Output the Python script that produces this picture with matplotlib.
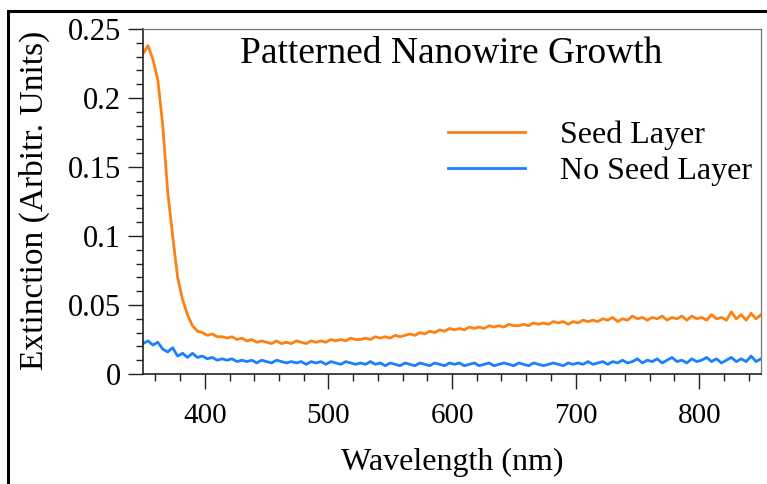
import numpy as np
import matplotlib
matplotlib.use("Agg")
import matplotlib.pyplot as plt
from matplotlib.ticker import MultipleLocator, FuncFormatter
from matplotlib.patches import Rectangle

plt.rcParams['font.family'] = ['Liberation Serif', 'DejaVu Serif']

# wavelength grid (nm), 4 nm step
wavelength = np.arange(350, 851, 4)

# extinction
seed_layer = [
    0.232, 0.238, 0.228, 0.213, 0.180, 0.132, 0.100, 0.070, 0.054, 0.043,
    0.035, 0.031, 0.030, 0.028, 0.029, 0.027, 0.027, 0.026, 0.027, 0.025,
    0.026, 0.024, 0.025, 0.023, 0.024, 0.023, 0.022, 0.024, 0.022, 0.023,
    0.022, 0.024, 0.023, 0.022, 0.024, 0.023, 0.024, 0.023, 0.025, 0.024,
    0.025, 0.024, 0.026, 0.025, 0.025, 0.026, 0.025, 0.027, 0.026, 0.027,
    0.026, 0.028, 0.027, 0.028, 0.029, 0.028, 0.030, 0.029, 0.031, 0.030,
    0.032, 0.031, 0.033, 0.032, 0.033, 0.032, 0.034, 0.033, 0.034, 0.033,
    0.035, 0.034, 0.035, 0.034, 0.036, 0.035, 0.035, 0.036, 0.035, 0.037,
    0.036, 0.037, 0.036, 0.038, 0.037, 0.038, 0.036, 0.038, 0.037, 0.039,
    0.038, 0.039, 0.038, 0.040, 0.039, 0.041, 0.038, 0.040, 0.039, 0.042,
    0.040, 0.041, 0.039, 0.041, 0.040, 0.042, 0.039, 0.041, 0.040, 0.042,
    0.039, 0.042, 0.040, 0.041, 0.039, 0.043, 0.040, 0.041, 0.039, 0.045,
    0.040, 0.043, 0.039, 0.044, 0.040, 0.043,
]
no_seed_layer = [
    0.022, 0.024, 0.021, 0.023, 0.018, 0.016, 0.019, 0.013, 0.015, 0.012,
    0.015, 0.012, 0.013, 0.011, 0.012, 0.010, 0.011, 0.010, 0.011, 0.009,
    0.010, 0.009, 0.010, 0.008, 0.010, 0.009, 0.008, 0.010, 0.009, 0.008,
    0.009, 0.008, 0.009, 0.007, 0.009, 0.008, 0.009, 0.007, 0.009, 0.008,
    0.007, 0.009, 0.008, 0.007, 0.008, 0.007, 0.009, 0.007, 0.008, 0.006,
    0.008, 0.007, 0.006, 0.008, 0.007, 0.006, 0.008, 0.007, 0.006, 0.008,
    0.007, 0.006, 0.008, 0.007, 0.008, 0.006, 0.007, 0.008, 0.006, 0.007,
    0.008, 0.006, 0.007, 0.008, 0.007, 0.006, 0.008, 0.007, 0.006, 0.008,
    0.007, 0.006, 0.007, 0.008, 0.007, 0.006, 0.008, 0.007, 0.008, 0.007,
    0.009, 0.007, 0.008, 0.009, 0.007, 0.009, 0.008, 0.010, 0.008, 0.009,
    0.011, 0.008, 0.010, 0.009, 0.011, 0.008, 0.010, 0.012, 0.009, 0.010,
    0.008, 0.011, 0.009, 0.010, 0.012, 0.009, 0.011, 0.008, 0.010, 0.012,
    0.009, 0.011, 0.009, 0.013, 0.009, 0.011,
]
labels = ["Seed Layer", "No Seed Layer"]
colors = ["#ff8012", "#1a80ff"]

W, H = 767, 484
fig = plt.figure(figsize=(W / 100, H / 100), dpi=100)
ax = fig.add_axes([143 / W, 1 - 374 / H, (761 - 143) / W, (374 - 29) / H])

ax.plot(wavelength, seed_layer, color=colors[0], lw=2.0, label=labels[0])
ax.plot(wavelength, no_seed_layer, color=colors[1], lw=2.0, label=labels[1])

ax.set_xlim(350, 850)
ax.set_ylim(0, 0.25)
ax.xaxis.set_major_locator(MultipleLocator(100))
ax.xaxis.set_minor_locator(MultipleLocator(20))
ax.yaxis.set_major_locator(MultipleLocator(0.05))
ax.yaxis.set_minor_locator(MultipleLocator(0.01))
ax.yaxis.set_major_formatter(FuncFormatter(lambda v, p: "%g" % round(v, 3)))

ax.tick_params(which='major', direction='out', length=11, width=1.0,
               labelsize=21, color='#222222')
ax.tick_params(axis='x', which='major', pad=10)
ax.tick_params(axis='y', which='major', pad=5, labelsize=22)
ax.tick_params(which='minor', direction='out', length=5, width=1.0, color='#222222')
ax.tick_params(top=False, right=False, which='both')
for s in ['left', 'bottom']:
    ax.spines[s].set_linewidth(1.2)
    ax.spines[s].set_color('#222222')
for s in ['top', 'right']:
    ax.spines[s].set_linewidth(0.9)
    ax.spines[s].set_color('#777777')

ax.set_xlabel("Wavelength (nm)", fontsize=23, va='center')
ax.xaxis.set_label_coords(452 / W, 1 - 462 / H, transform=fig.transFigure)
ax.set_ylabel("Extinction (Arbitr. Units)", fontsize=24, va='center')
ax.yaxis.set_label_coords(34 / W, 1 - 200 / H, transform=fig.transFigure)

fig.text(451 / W, 1 - 63 / H, "Patterned Nanowire Growth", fontsize=27,
         ha='center', va='baseline')

ax.legend(loc='center left', bbox_to_anchor=(448 / W, 1 - 153 / H),
          bbox_transform=fig.transFigure, frameon=False, fontsize=23,
          handlelength=2.4, handletextpad=1.1, borderpad=0, borderaxespad=0,
          labelspacing=0.2)

fig.add_artist(Rectangle((7.5 / W, -0.1), 1.2, 1.1 - 11 / H, fill=False,
                         lw=2.2, edgecolor='black', transform=fig.transFigure,
                         clip_on=False))

fig.savefig("out.png", dpi=100)
